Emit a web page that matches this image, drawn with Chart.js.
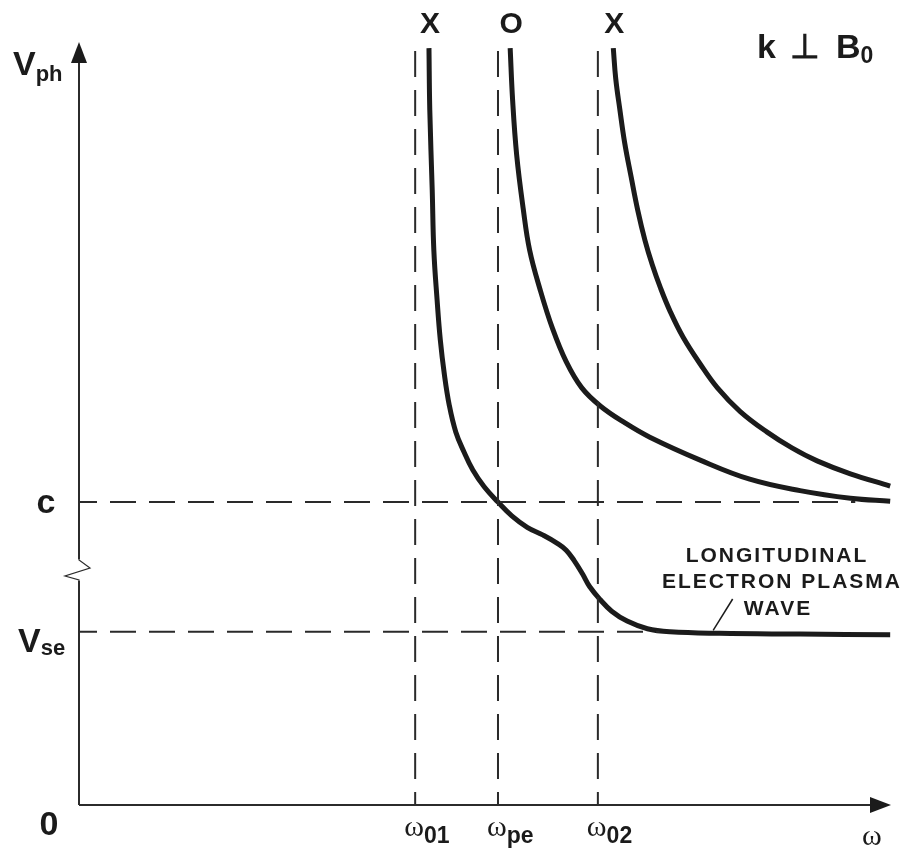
<!DOCTYPE html>
<html>
<head>
<meta charset="utf-8">
<title>Vph vs omega, k perpendicular B0</title>
<script src="https://cdn.jsdelivr.net/npm/chart.js@4.4.1/dist/chart.umd.min.js"></script>
<style>
  html, body { margin: 0; padding: 0; background: #fff; }
  canvas { display: block; }
</style>
</head>
<body>
<canvas id="chart_dispersion" width="906" height="851"></canvas>
<script>
// omega axis runs 0..100, Vph axis runs 0..100 (arbitrary units)

// characteristic frequencies (vertical dashed lines)
const omegaNames = ["01", "pe", "02"];
const omegaValues = [41.4, 51.6, 63.9];

// characteristic speeds (horizontal dashed lines)
const speedNames = ["c", "Vse"];
const speedValues = [39.7, 22.7];
const speedLineEnds = [95.6, 71.5];

// top labels above each branch
const branchNames = ["X", "O", "X"];

// lower X branch, becomes the longitudinal electron plasma wave
const xLowOmega = [43.1, 43.2, 43.5, 43.7, 44.1, 44.5, 45.0, 45.6, 46.4, 47.4, 48.5, 49.9, 51.6,
  53.3, 55.2, 57.1, 58.9, 60.0, 61.0, 62.0, 62.9, 64.2, 65.6, 67.5, 70.0, 72.8, 78.9, 88.8, 99.9];
const xLowVph = [99.2, 91.1, 80.6, 72.7, 66.2, 60.9, 56.4, 52.4, 48.9, 46.3, 43.9, 41.7, 39.7,
  37.9, 36.4, 35.4, 34.3, 33.4, 32.0, 30.3, 28.6, 26.9, 25.4, 24.1, 23.1, 22.7, 22.5, 22.4, 22.3];

// O mode
const oOmega = [53.1, 53.4, 53.9, 54.7, 55.5, 56.8, 58.3, 60.0, 61.9, 64.2, 67.2, 70.3, 76.5, 82.6, 88.8, 95.0, 99.9];
const oVph = [99.2, 92.4, 85.2, 78.2, 72.7, 67.5, 62.5, 58.1, 54.7, 52.3, 50.1, 48.2, 45.2, 42.7, 41.2, 40.2, 39.8];

// upper X branch
const xHighOmega = [65.8, 66.1, 66.6, 67.2, 68.0, 68.8, 69.7, 70.6, 71.6, 72.8, 74.4, 76.5, 78.6, 81.4, 84.7, 87.8, 90.9, 95.0, 99.9];
const xHighVph = [99.2, 95.2, 91.2, 86.8, 82.3, 78.0, 74.0, 70.8, 67.8, 64.7, 61.3, 57.8, 54.7, 51.6, 48.9, 46.8, 45.1, 43.4, 41.8];

// pointer from the caption to the flat part of the plasma wave
const pointerOmega = [78.1, 80.5];
const pointerVph = [22.9, 27.0];

const waveCaption = ["LONGITUDINAL", "ELECTRON PLASMA", "WAVE"];

const INK = "#1b1b1b";
const SANS = '"Liberation Sans", Arial, sans-serif';
const SERIF = '"Liberation Serif", "Times New Roman", serif';

function toPoints(xs, ys) {
  return xs.map((x, i) => ({ x: x, y: ys[i] }));
}

function curveDataset(xs, ys) {
  return {
    data: toPoints(xs, ys),
    showLine: true,
    borderColor: INK,
    borderWidth: 5,
    pointRadius: 0,
    tension: 0.4,
    borderCapStyle: "butt",
  };
}

function dashedDataset(points, offset) {
  return {
    data: points,
    showLine: true,
    borderColor: "#2a2a2a",
    borderWidth: 2,
    borderDash: [26, 13],
    borderDashOffset: offset,
    pointRadius: 0,
    tension: 0,
  };
}

const datasets = [];
omegaValues.forEach((w) => {
  datasets.push(dashedDataset([{ x: w, y: 0 }, { x: w, y: 99.2 }], 13));
});
speedValues.forEach((v, i) => {
  datasets.push(dashedDataset([{ x: 0, y: v }, { x: speedLineEnds[i], y: v }], 8));
});
datasets.push(curveDataset(xLowOmega, xLowVph));
datasets.push(curveDataset(oOmega, oVph));
datasets.push(curveDataset(xHighOmega, xHighVph));
datasets.push({
  data: toPoints(pointerOmega, pointerVph),
  showLine: true,
  borderColor: INK,
  borderWidth: 1.5,
  pointRadius: 0,
});

// text with a subscript, left edge at x
function drawSub(ctx, x, y, main, mainFont, sub, subFont, subDrop) {
  ctx.font = mainFont;
  ctx.textAlign = "left";
  ctx.fillText(main, x, y);
  const w = ctx.measureText(main).width;
  ctx.font = subFont;
  ctx.fillText(sub, x + w, y + subDrop);
}

const axesPlugin = {
  id: "axesPlugin",
  afterDatasetsDraw(chart) {
    const ctx = chart.ctx;
    const xs = chart.scales.x;
    const ys = chart.scales.y;
    const x0 = xs.getPixelForValue(0);
    const y0 = ys.getPixelForValue(0);
    const xEnd = xs.getPixelForValue(100);
    const yEnd = ys.getPixelForValue(100);

    ctx.save();
    ctx.strokeStyle = "#2b2b2b";
    ctx.fillStyle = INK;
    ctx.lineWidth = 2;

    // axes
    ctx.beginPath();
    ctx.moveTo(x0, y0);
    ctx.lineTo(x0, yEnd + 15);
    ctx.moveTo(x0, y0);
    ctx.lineTo(xEnd - 15, y0);
    ctx.stroke();

    // arrow heads
    ctx.beginPath();
    ctx.moveTo(x0, yEnd);
    ctx.lineTo(x0 - 8, yEnd + 21);
    ctx.lineTo(x0 + 8, yEnd + 21);
    ctx.closePath();
    ctx.fill();
    ctx.beginPath();
    ctx.moveTo(xEnd, y0);
    ctx.lineTo(xEnd - 21, y0 - 8);
    ctx.lineTo(xEnd - 21, y0 + 8);
    ctx.closePath();
    ctx.fill();

    // break in the Vph axis
    const yb = ys.getPixelForValue(30.8);
    ctx.fillStyle = "#fff";
    ctx.fillRect(x0 - 3, yb - 11, 6, 22);
    ctx.lineWidth = 1.2;
    ctx.beginPath();
    ctx.moveTo(x0, yb - 12);
    ctx.lineTo(x0, yb - 10);
    ctx.lineTo(x0 + 11, yb - 2);
    ctx.lineTo(x0 - 14, yb + 6);
    ctx.lineTo(x0, yb + 10);
    ctx.lineTo(x0, yb + 12);
    ctx.stroke();

    ctx.fillStyle = INK;
    ctx.textBaseline = "alphabetic";

    // Vph label
    drawSub(ctx, 13, 75, "V", "bold 34px " + SANS, "ph", "bold 22px " + SANS, 6);

    // speed labels
    ctx.font = "bold 34px " + SANS;
    ctx.textAlign = "center";
    ctx.fillText(speedNames[0], 46, ys.getPixelForValue(speedValues[0]) + 11);
    drawSub(ctx, 18, ys.getPixelForValue(speedValues[1]) + 20, "V", "bold 34px " + SANS, "se", "bold 22px " + SANS, 3);

    // origin
    ctx.font = "bold 34px " + SANS;
    ctx.textAlign = "center";
    ctx.fillText("0", 49, 835);

    // omega labels under the axis
    omegaValues.forEach((w, i) => {
      const px = xs.getPixelForValue(w);
      drawSub(ctx, px - 11, 836, "\u03c9", "30px " + SERIF, omegaNames[i], "bold 23px " + SANS, 7);
    });
    ctx.font = "30px " + SERIF;
    ctx.textAlign = "left";
    ctx.fillText("\u03c9", 862, 845);

    // branch names above the curves
    ctx.font = "bold 30px " + SANS;
    ctx.textAlign = "center";
    const tops = [xLowOmega[0], oOmega[0], xHighOmega[0]];
    branchNames.forEach((name, i) => {
      ctx.fillText(name, xs.getPixelForValue(tops[i]) + 1, 33);
    });

    // k perp B0
    ctx.font = "bold 34px " + SANS;
    ctx.textAlign = "left";
    ctx.fillText("k", 757, 58);
    ctx.fillText("\u22a5", 790, 58);
    drawSub(ctx, 836, 58, "B", "bold 34px " + SANS, "0", "bold 23px " + SANS, 5);

    // caption of the plasma wave
    ctx.font = "bold 21px " + SANS;
    ctx.letterSpacing = "2px";
    ctx.textAlign = "center";
    ctx.fillText(waveCaption[0], 777, 562);
    ctx.fillText(waveCaption[1], 782, 588);
    ctx.fillText(waveCaption[2], 778, 615);
    ctx.letterSpacing = "0px";

    ctx.restore();
  },
};

function initializeChart() {
  const ctx = document.getElementById("chart_dispersion").getContext("2d");
  return new Chart(ctx, {
    type: "scatter",
    data: { datasets: datasets },
    options: {
      responsive: false,
      animation: false,
      layout: {
        padding: { left: 79, right: 15, top: 42, bottom: 46 },
      },
      scales: {
        x: { type: "linear", min: 0, max: 100, display: false },
        y: { type: "linear", min: 0, max: 100, display: false },
      },
      plugins: {
        legend: { display: false },
        tooltip: { enabled: false },
      },
    },
    plugins: [axesPlugin],
  });
}

initializeChart();
</script>
</body>
</html>
